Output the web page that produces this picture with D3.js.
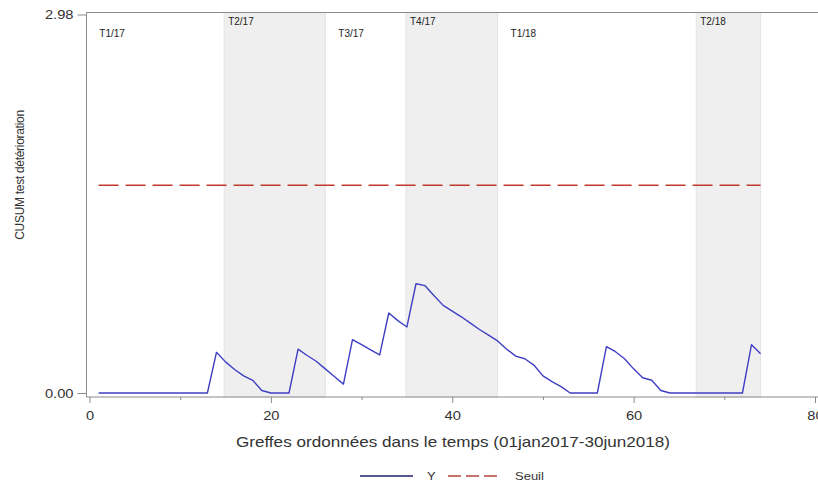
<!DOCTYPE html>
<html>
<head>
<meta charset="utf-8">
<script src="https://cdn.jsdelivr.net/npm/d3@7"></script>
<style>
  body { margin: 0; background: #fff; }
  text { font-family: "Liberation Sans", Arial, sans-serif; }
</style>
</head>
<body>
<div id="chart"></div>
<script>
// CUSUM value for each graft, in time order (graft 1 .. 74)
var cusum = [
  0, 0, 0, 0, 0, 0, 0, 0, 0, 0, 0, 0, 0,
  0.32, 0.245, 0.185, 0.135, 0.10, 0.02, 0, 0, 0,
  0.345, 0.295, 0.25, 0.19, 0.13, 0.07,
  0.42, 0.38, 0.34, 0.30,
  0.63, 0.57, 0.52,
  0.86, 0.845, 0.765, 0.69, 0.645, 0.60, 0.55, 0.50, 0.455, 0.41,
  0.345, 0.29, 0.27, 0.22, 0.135, 0.09, 0.05, 0, 0, 0, 0,
  0.365, 0.325, 0.27, 0.19, 0.12, 0.10, 0.02, 0,
  0, 0, 0, 0, 0, 0, 0, 0,
  0.38, 0.31
];

var seuil = 1.635;

// quarters: label, first and last position on the graft axis
var quarterLabels = ['T1/17', 'T2/17', 'T3/17', 'T4/17', 'T1/18', 'T2/18'];
var quarterStart = [-0.35, 14.85, 26, 34.9, 45, 66.9];
var quarterEnd   = [14.85, 26, 34.9, 45, 66.9, 74];

var xTicks = [0, 20, 40, 60, 80];
var xMinorTicks = [10, 30, 50, 70];
var yTicks = [0, 2.98];

var W = 818, H = 487;
var plotLeft = 86.5, plotTop = 12.5, plotBottom = 397, plotRight = 840;

var svg = d3.select('#chart')
    .append('svg')
    .attr('width', W)
    .attr('height', H);

var x = d3.scaleLinear().domain([0, 80]).range([89.5, 815]);
var y = d3.scaleLinear().domain([0, 2.98]).range([393, 14.5]);

// stretch text horizontally a little, the original is drawn wider
function stretch(sel, k) {
    sel.each(function () {
        var L = this.getComputedTextLength();
        this.setAttribute('textLength', L * k);
        this.setAttribute('lengthAdjust', 'spacingAndGlyphs');
    });
}

// quarter bands
var quarters = quarterLabels.map(function (q, i) {
    return {label: q, x0: quarterStart[i], x1: quarterEnd[i], shaded: i % 2 === 1};
});

svg.selectAll('.band')
    .data(quarters.filter(function (d) { return d.shaded; }))
    .enter().append('rect')
    .attr('class', 'band')
    .attr('x', function (d) { return x(d.x0); })
    .attr('y', plotTop)
    .attr('width', function (d) { return x(d.x1) - x(d.x0); })
    .attr('height', plotBottom - plotTop)
    .attr('fill', '#efefef')
    .attr('stroke', '#e4e4e4')
    .attr('stroke-width', 1);

svg.selectAll('.qlabel')
    .data(quarters)
    .enter().append('text')
    .attr('class', 'qlabel')
    .attr('x', function (d) { return x(d.x0) + (d.shaded ? 4 : 13); })
    .attr('y', function (d) { return d.shaded ? 25 : 37; })
    .attr('font-size', 10)
    .attr('fill', '#222')
    .text(function (d) { return d.label; });

// frame
svg.append('line')
    .attr('x1', plotLeft).attr('x2', plotRight)
    .attr('y1', plotTop).attr('y2', plotTop)
    .attr('stroke', '#8a8a8a');
svg.append('line')
    .attr('x1', plotLeft).attr('x2', plotLeft)
    .attr('y1', plotTop).attr('y2', plotBottom)
    .attr('stroke', '#8a8a8a');
svg.append('line')
    .attr('x1', plotLeft).attr('x2', plotRight)
    .attr('y1', plotBottom).attr('y2', plotBottom)
    .attr('stroke', '#8a8a8a');

// x axis
var xAxis = svg.append('g')
    .attr('transform', 'translate(0,' + plotBottom + ')')
    .call(d3.axisBottom(x).tickValues(xTicks).tickSize(6).tickPadding(8));
xAxis.select('.domain').remove();
xAxis.selectAll('line').attr('stroke', '#8a8a8a');
xAxis.selectAll('text')
    .attr('font-size', 13)
    .attr('fill', '#333')
    .style('font-family', '"Liberation Sans", Arial, sans-serif');

var xMinor = svg.append('g')
    .attr('transform', 'translate(0,' + plotBottom + ')')
    .call(d3.axisBottom(x).tickValues(xMinorTicks).tickSize(3).tickFormat(''));
xMinor.select('.domain').remove();
xMinor.selectAll('line').attr('stroke', '#8a8a8a');

// y axis
var yAxis = svg.append('g')
    .attr('transform', 'translate(' + plotLeft + ',0)')
    .call(d3.axisLeft(y).tickValues(yTicks).tickFormat(d3.format('.2f')).tickSize(9).tickPadding(4));
yAxis.select('.domain').remove();
yAxis.selectAll('line').attr('stroke', '#8a8a8a');
yAxis.selectAll('text')
    .attr('font-size', 13)
    .attr('fill', '#333')
    .style('font-family', '"Liberation Sans", Arial, sans-serif');

// threshold
svg.append('line')
    .attr('x1', x(1)).attr('x2', x(74))
    .attr('y1', y(seuil)).attr('y2', y(seuil))
    .attr('stroke', '#c0392b')
    .attr('stroke-width', 1.5)
    .attr('stroke-dasharray', '20,7');

// cusum line
var line = d3.line()
    .x(function (d, i) { return x(i + 1); })
    .y(function (d) { return y(d); });

svg.append('path')
    .datum(cusum)
    .attr('d', line)
    .attr('fill', 'none')
    .attr('stroke', '#3f3fc4')
    .attr('stroke-width', 1.4)
    .attr('stroke-linejoin', 'round');

// axis titles
var xTitle = svg.append('text')
    .attr('x', 453)
    .attr('y', 447)
    .attr('text-anchor', 'middle')
    .attr('font-size', 15)
    .attr('fill', '#333')
    .text('Greffes ordonnées dans le temps (01jan2017-30jun2018)');

svg.append('text')
    .attr('transform', 'translate(24,175) rotate(-90)')
    .attr('text-anchor', 'middle')
    .attr('font-size', 12)
    .attr('fill', '#333')
    .attr('letter-spacing', -0.3)
    .text('CUSUM test détérioration');

// legend
var lg = svg.append('g').attr('transform', 'translate(0,476)');
lg.append('line')
    .attr('x1', 360).attr('x2', 413)
    .attr('stroke', '#1f1f6b').attr('stroke-width', 1.5);
var lgY = lg.append('text')
    .attr('x', 427).attr('y', 4)
    .attr('font-size', 11.5).attr('fill', '#333')
    .text('Y');
lg.append('line')
    .attr('x1', 448).attr('x2', 497)
    .attr('stroke', '#b5443a').attr('stroke-width', 1.5)
    .attr('stroke-dasharray', '13,5');
var lgS = lg.append('text')
    .attr('x', 515).attr('y', 4)
    .attr('font-size', 11.5).attr('fill', '#333')
    .text('Seuil');

stretch(xTitle, 1.14);
stretch(xAxis.selectAll('text'), 1.13);
stretch(yAxis.selectAll('text'), 1.13);
stretch(lgY, 1.13);
stretch(lgS, 1.13);
</script>
</body>
</html>
